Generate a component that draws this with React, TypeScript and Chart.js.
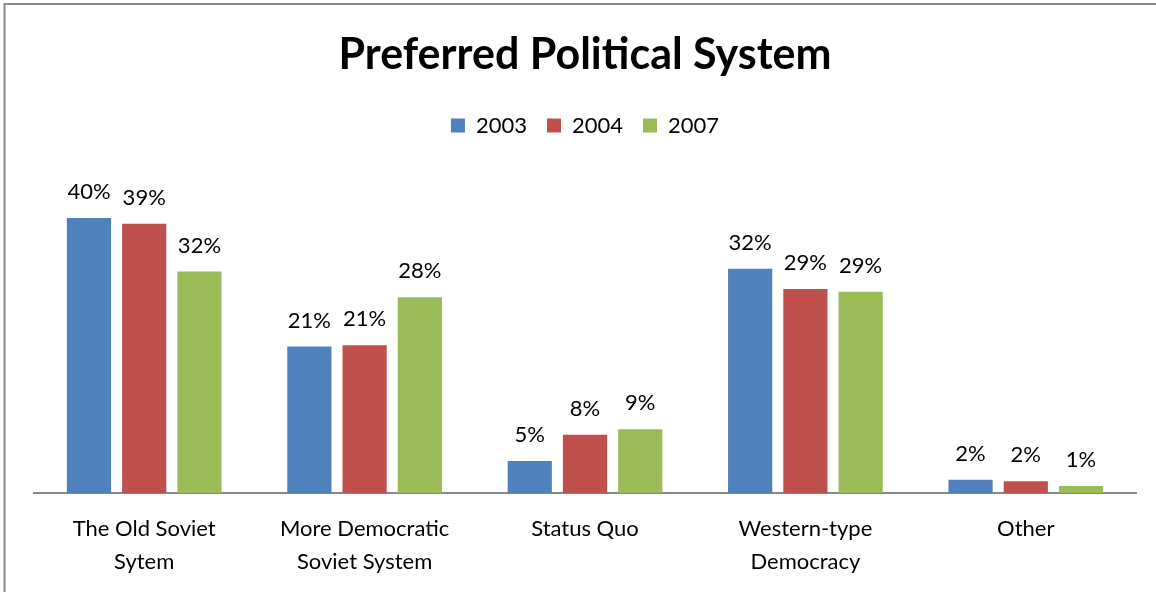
import React, { useEffect, useRef } from "react";
import { Chart, registerables } from "chart.js";

Chart.register(...registerables);

const categories: string[][] = [
  ["The Old Soviet", "Sytem"],
  ["More Democratic", "Soviet System"],
  ["Status Quo"],
  ["Western-type", "Democracy"],
  ["Other"],
];
const seriesNames = ["2003", "2004", "2007"];
const values2003 = [39.6, 21.1, 4.6, 32.3, 1.9];
const values2004 = [38.8, 21.3, 8.4, 29.4, 1.7];
const values2007 = [31.9, 28.2, 9.2, 29.0, 1.0];
const seriesColors = ["#4F81BD", "#C0504D", "#9BBB59"];

const FONT = "Lato, 'Open Sans', sans-serif";

export default function App() {
  const ref = useRef<HTMLCanvasElement | null>(null);
  useEffect(() => {
    document.body.style.margin = "0";
    const canvas = ref.current;
    if (!canvas) return;

    const frame = {
      id: "frame",
      beforeDraw(chart: any) {
        const ctx = chart.ctx;
        ctx.save();
        ctx.fillStyle = "#ffffff";
        ctx.fillRect(0, 0, chart.width, chart.height);
        ctx.strokeStyle = "#8a8a8a";
        ctx.lineWidth = 2;
        ctx.beginPath();
        ctx.moveTo(4.5, chart.height);
        ctx.lineTo(4.5, 4);
        ctx.lineTo(chart.width, 4);
        ctx.stroke();
        ctx.restore();
      },
    };

    const labelsPlugin = {
      id: "barLabels",
      afterDatasetsDraw(chart: any) {
        const ctx = chart.ctx;
        ctx.save();
        ctx.font = `22px ${FONT}`;
        ctx.fillStyle = "#000000";
        ctx.textAlign = "center";
        ctx.textBaseline = "alphabetic";
        chart.data.datasets.forEach((ds: any, i: number) => {
          const meta = chart.getDatasetMeta(i);
          meta.data.forEach((bar: any, j: number) => {
            const v = ds.data[j];
            ctx.fillText(`${Math.round(v)}%`, bar.x, bar.y - 19);
          });
        });
        ctx.restore();
      },
    };

    const chart = new Chart(canvas, {
      type: "bar",
      data: {
        labels: categories,
        datasets: [values2003, values2004, values2007].map((d, i) => ({
          label: seriesNames[i],
          data: d,
          backgroundColor: seriesColors[i],
          borderWidth: 0,
          categoryPercentage: 0.752,
          barPercentage: 0.8,
        })),
      },
      options: {
        animation: false,
        responsive: false,
        maintainAspectRatio: false,
        layout: { padding: { left: 34, right: 20, top: 0, bottom: -5 } },
        plugins: {
          title: {
            display: true,
            text: "Preferred Political System",
            color: "#000000",
            font: { family: FONT, size: 43, weight: "bold", lineHeight: 1.2 },
            padding: { top: 29, bottom: 14 },
          },
          legend: {
            display: true,
            position: "top",
            labels: {
              color: "#000000",
              font: { family: FONT, size: 22 },
              boxWidth: 14,
              boxHeight: 14,
              padding: 20,
            },
          },
          tooltip: { enabled: false },
        },
        scales: {
          x: {
            grid: { display: false, drawTicks: false },
            border: { display: true, color: "#868686", width: 2 },
            ticks: {
              color: "#000000",
              font: { family: FONT, size: 22, lineHeight: 1.5 },
              padding: 19,
              maxRotation: 0,
              autoSkip: false,
            },
          },
          y: {
            display: false,
            min: 0,
            max: 49.9,
          },
        },
      },
      plugins: [frame, labelsPlugin],
    });
    return () => chart.destroy();
  }, []);

  return (
    <div style={{ width: 1156, height: 592 }}>
      <canvas ref={ref} width={1156} height={592} />
    </div>
  );
}
